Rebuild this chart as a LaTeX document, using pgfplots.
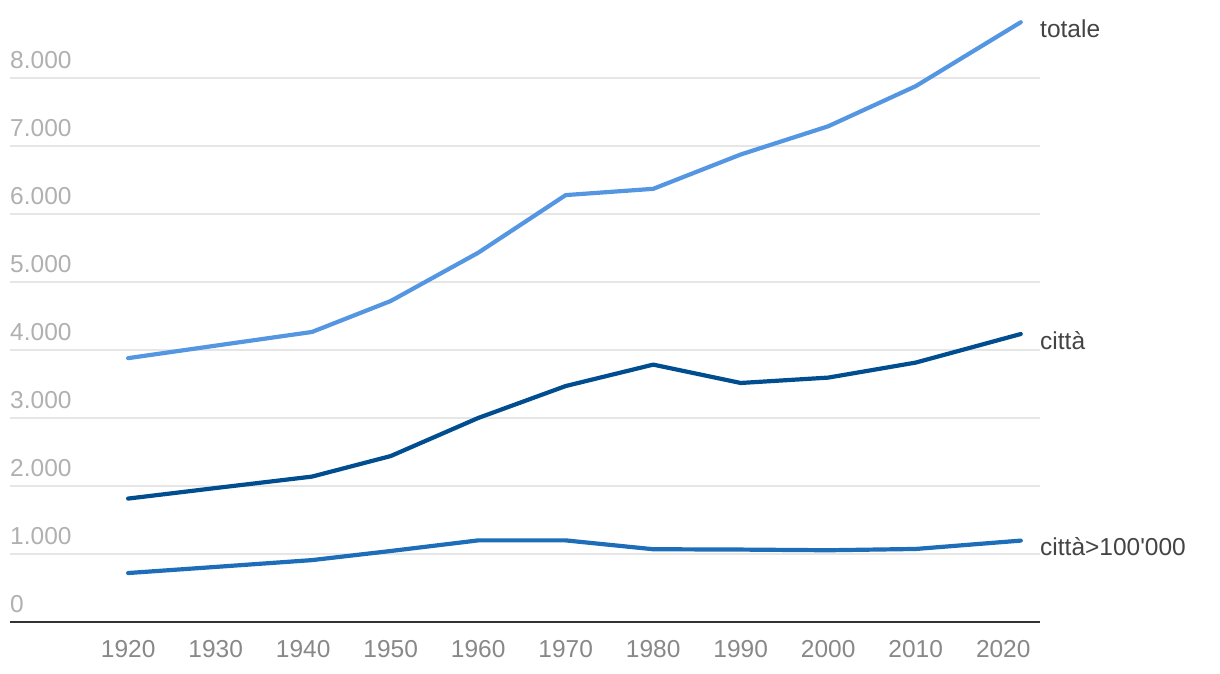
\documentclass[border=0pt]{standalone}
\usepackage{pgfplots}
\pgfplotsset{compat=1.18}
\usepackage{fontspec}
\setmainfont{Liberation Sans}
\definecolor{ctot}{RGB}{85,150,226}
\definecolor{ccit}{RGB}{0,77,143}
\definecolor{cbig}{RGB}{30,109,185}
\definecolor{cgrid}{RGB}{230,230,230}
\definecolor{cylab}{RGB}{176,176,176}
\definecolor{cxlab}{RGB}{136,136,136}
\definecolor{cser}{RGB}{68,68,68}
\begin{document}
\begin{tikzpicture}
\useasboundingbox (0,0) rectangle (1220pt,674pt);
\begin{axis}[
  at={(10pt,52pt)}, anchor=south west,
  scale only axis, width=1030pt, height=612pt,
  xmin=1906.5, xmax=2024.2, ymin=0, ymax=9000,
  clip=false,
  axis line style={draw=none},
  major tick length=0pt,
  xtick={1920,1930,...,2020},
  ytick={0,1000,...,8000},
  ymajorgrids, grid style={cgrid, line width=1.6pt},
  /pgf/number format/.cd, 1000 sep={.}, assume math mode=true,
  /pgfplots/.cd,
  xticklabel={\pgfmathprintnumber[1000 sep={}]{\tick}},
  xticklabel style={font=\fontsize{24.5}{28}\selectfont, text=cxlab, yshift=-15pt},
  yticklabel style={font=\fontsize{24.5}{28}\selectfont, text=cylab, anchor=south west, inner sep=0pt, xshift=0pt, yshift=9pt},
  yticklabel pos=left,
  every axis plot/.append style={line width=4.2pt, line cap=round, line join=round},
]
\addplot[ctot] coordinates {(1920,3880) (1930,4064) (1941,4265) (1950,4720) (1960,5430) (1970,6278) (1980,6370) (1990,6875) (2000,7290) (2010,7880) (2022,8820)};
\addplot[ccit] coordinates {(1920,1815) (1930,1970) (1941,2138) (1950,2440) (1960,3000) (1970,3470) (1980,3785) (1990,3515) (2000,3594) (2010,3815) (2022,4235)};
\addplot[cbig] coordinates {(1920,720) (1930,810) (1941,910) (1950,1044) (1960,1200) (1970,1200) (1980,1070) (1990,1065) (2000,1055) (2010,1074) (2022,1197)};
\draw[line width=2.4pt, color=black!80] (rel axis cs:0,0) -- (rel axis cs:1,0);
\node[anchor=west, font=\fontsize{24.5}{28}\selectfont, text=cser, inner sep=0pt] at (axis cs:2024.2,8720) {totale};
\node[anchor=west, font=\fontsize{24.5}{28}\selectfont, text=cser, inner sep=0pt] at (axis cs:2024.2,4140) {città};
\node[anchor=west, font=\fontsize{24.5}{28}\selectfont, text=cser, inner sep=0pt] at (axis cs:2024.2,1116) {città>100\textquotesingle 000};
\end{axis}
\end{tikzpicture}
\end{document}
